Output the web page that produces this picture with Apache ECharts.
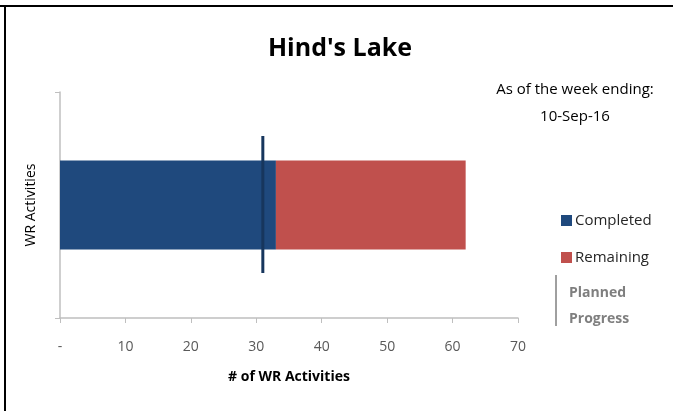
<!DOCTYPE html>
<html>
<head>
<meta charset="utf-8">
<script src="https://cdn.jsdelivr.net/npm/echarts@6/dist/echarts.min.js"></script>
<style>
  html, body { margin: 0; padding: 0; background: #fff; }
  #chart { width: 673px; height: 411px; }
</style>
</head>
<body>
<div id="chart"></div>
<script>
// data
var categories = ['WR'];
var completed = [33];
var remaining = [29];
var planned = 31;
var xTicks = ['-', '10', '20', '30', '40', '50', '60', '70'];

var myChart = echarts.init(document.getElementById('chart'));
var font = '"Open Sans", "Noto Sans", sans-serif';

var option = {
  backgroundColor: '#ffffff',
  animation: false,
  textStyle: { fontFamily: font },
  title: {
    text: "Hind's Lake",
    left: 335,
    textAlign: 'center',
    top: 31,
    textStyle: { fontSize: 25, fontWeight: 'bold', color: '#000', fontFamily: font }
  },
  legend: {
    orient: 'vertical',
    left: 556,
    top: 208,
    itemWidth: 11,
    itemHeight: 11,
    itemGap: 22,
    icon: 'rect',
    data: ['Completed', 'Remaining'],
    textStyle: { fontSize: 15, color: '#262626', padding: [0, 0, 0, -2] }
  },
  grid: { left: 60, right: 155, top: 92, bottom: 93 },
  xAxis: {
    type: 'value',
    min: 0,
    max: 70,
    interval: 10,
    name: '# of WR Activities',
    nameLocation: 'middle',
    nameGap: 52,
    nameTextStyle: { fontSize: 14, fontWeight: 'bold', color: '#000' },
    axisLine: { show: true, lineStyle: { color: '#bfbfbf', width: 1.5 } },
    axisTick: { show: true, length: 5, lineStyle: { color: '#bfbfbf' } },
    splitLine: { show: false },
    axisLabel: {
      fontSize: 14,
      color: '#595959',
      margin: 22,
      formatter: function (v) { return xTicks[v / 10]; }
    }
  },
  yAxis: {
    type: 'category',
    data: categories,
    name: 'WR Activities',
    nameLocation: 'middle',
    nameGap: 22,
    nameRotate: 90,
    nameTextStyle: { fontSize: 14, color: '#000' },
    axisLine: { show: true, lineStyle: { color: '#bfbfbf', width: 1.5 } },
    axisTick: { show: true, length: 5, lineStyle: { color: '#bfbfbf' } },
    axisLabel: { show: false }
  },
  graphic: [
    { type: 'line', shape: { x1: 0, y1: 6, x2: 673, y2: 6 }, style: { stroke: '#000', lineWidth: 2 } },
    { type: 'line', shape: { x1: 5, y1: 6, x2: 5, y2: 411 }, style: { stroke: '#000', lineWidth: 2 } },
    { type: 'text', x: 575, y: 90, style: { text: 'As of the week ending:', fontSize: 15, fill: '#000', fontFamily: font, align: 'center', verticalAlign: 'middle' } },
    { type: 'text', x: 575, y: 117, style: { text: '10-Sep-16', fontSize: 15, fill: '#000', fontFamily: font, align: 'center', verticalAlign: 'middle' } },
    { type: 'line', shape: { x1: 556, y1: 275, x2: 556, y2: 326 }, style: { stroke: '#404040', lineWidth: 1 } },
    { type: 'text', left: 569, top: 280, style: { text: 'Planned\nProgress', fontSize: 14, fontWeight: 'bold', fill: '#7f7f7f', lineHeight: 26, fontFamily: font } }
  ],
  series: [
    {
      name: 'Completed',
      type: 'bar',
      stack: 'total',
      barWidth: 89,
      itemStyle: { color: '#1f497d' },
      data: completed
    },
    {
      name: 'Remaining',
      type: 'bar',
      stack: 'total',
      barWidth: 89,
      itemStyle: { color: '#c0504d' },
      data: remaining
    },
    {
      name: 'Planned Progress',
      type: 'custom',
      z: 5,
      data: [[planned, 0]],
      encode: { x: 0, y: 1 },
      renderItem: function (params, api) {
        var p = api.coord([api.value(0), api.value(1)]);
        return {
          type: 'line',
          shape: { x1: p[0], y1: p[1] - 69, x2: p[0], y2: p[1] + 68 },
          style: { stroke: '#17365d', lineWidth: 3 }
        };
      }
    }
  ]
};

myChart.setOption(option);
</script>
</body>
</html>
